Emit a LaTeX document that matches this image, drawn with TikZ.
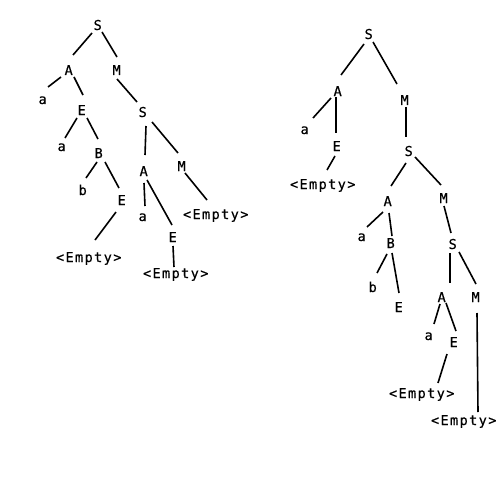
\documentclass[tikz,border=0pt]{standalone}
\usepackage{fontspec}
\usetikzlibrary{calc}
\newfontfamily\treefont[LetterSpace=10,FakeBold=0.5]{DejaVu Sans Mono}
\newcommand\tedge[6]{\draw[edgeline] ($(#1.base)+(#2,#3)$) -- ($(#4.base)+(#5,#6)$);}
\begin{document}
\begin{tikzpicture}[x=1pt,y=-1pt,
  lbl/.style={anchor=base,inner sep=0pt,font=\treefont\fontsize{13.6}{15}\selectfont,
    execute at end node={\kern-1.36pt}},
  edgeline/.style={line width=1.6pt}]
\useasboundingbox (0,0) rectangle (500,500);
% left tree
\node[lbl] (L1) at (97,30) {S};
\node[lbl] (L2) at (68,75) {A};
\node[lbl] (L3) at (116,75) {M};
\node[lbl] (L4) at (42,104) {a};
\node[lbl] (L5) at (81,115) {E};
\node[lbl] (L6) at (142,117) {S};
\node[lbl] (L7) at (61,151) {a};
\node[lbl] (L8) at (98,158) {B};
\node[lbl] (L9) at (82,195) {b};
\node[lbl] (L10) at (121,205) {E};
\node[lbl] (L11) at (88,262) {<Empty>};
\node[lbl] (L12) at (143,176) {A};
\node[lbl] (L13) at (181,171) {M};
\node[lbl] (L14) at (142,221) {a};
\node[lbl] (L15) at (172,242) {E};
\node[lbl] (L16) at (175,278) {<Empty>};
\node[lbl] (L17) at (215,219) {<Empty>};
\tedge{L1}{-5}{3}{L2}{5}{-20}
\tedge{L1}{5}{2}{L3}{1}{-18}
\tedge{L2}{-7}{2}{L4}{6}{-17}
\tedge{L2}{6}{2}{L5}{2}{-20}
\tedge{L3}{1}{4}{L6}{-5}{-15}
\tedge{L5}{-4}{3}{L7}{4}{-13}
\tedge{L5}{6}{3}{L8}{0}{-19}
\tedge{L6}{4}{9}{L12}{2}{-21}
\tedge{L6}{10}{5}{L13}{-3}{-18}
\tedge{L8}{-1}{4}{L9}{4}{-17}
\tedge{L8}{7}{4}{L10}{-2}{-17}
\tedge{L10}{-5}{7}{L11}{7}{-22}
\tedge{L12}{1}{7}{L14}{3}{-15}
\tedge{L12}{4}{4}{L15}{0}{-17}
\tedge{L13}{4}{2}{L17}{-8}{-19}
\tedge{L15}{1}{4}{L16}{-1}{-11}
% right tree
\node[lbl] (R1) at (368,39) {S};
\node[lbl] (R2) at (337,96) {A};
\node[lbl] (R3) at (404,105) {M};
\node[lbl] (R4) at (304,134) {a};
\node[lbl] (R5) at (336,151) {E};
\node[lbl] (R6) at (322,189) {<Empty>};
\node[lbl] (R7) at (408,156) {S};
\node[lbl] (R8) at (387,206) {A};
\node[lbl] (R9) at (443,203) {M};
\node[lbl] (R10) at (361,241) {a};
\node[lbl] (R11) at (390,248) {B};
\node[lbl] (R12) at (452,249) {S};
\node[lbl] (R13) at (372,292) {b};
\node[lbl] (R14) at (398,312) {E};
\node[lbl] (R15) at (441,302) {A};
\node[lbl] (R16) at (475,302) {M};
\node[lbl] (R17) at (428,340) {a};
\node[lbl] (R18) at (453,347) {E};
\node[lbl] (R19) at (421,398) {<Empty>};
\node[lbl] (R20) at (463,425) {<Empty>};
\tedge{R1}{-4}{5}{R2}{4}{-21}
\tedge{R1}{5}{3}{R3}{-7}{-21}
\tedge{R2}{-6}{2}{R4}{9}{-16}
\tedge{R2}{-1}{1}{R5}{0}{-18}
\tedge{R5}{-1}{5}{R6}{5}{-19}
\tedge{R3}{2}{2}{R7}{-2}{-19}
\tedge{R7}{-2}{7}{R8}{4}{-20}
\tedge{R7}{7}{1}{R9}{-2}{-18}
\tedge{R8}{-4}{6}{R10}{6}{-14}
\tedge{R8}{2}{7}{R11}{2}{-12}
\tedge{R9}{1}{3}{R12}{-1}{-16}
\tedge{R11}{-3}{6}{R13}{5}{-19}
\tedge{R11}{2}{5}{R14}{1}{-19}
\tedge{R12}{-2}{4}{R15}{9}{-19}
\tedge{R12}{7}{3}{R16}{1}{-18}
\tedge{R15}{-1}{2}{R17}{6}{-16}
\tedge{R15}{5}{1}{R18}{3}{-16}
\tedge{R18}{-6}{7}{R19}{17}{-15}
\tedge{R16}{2}{11}{R20}{15}{-13}
\end{tikzpicture}
\end{document}
